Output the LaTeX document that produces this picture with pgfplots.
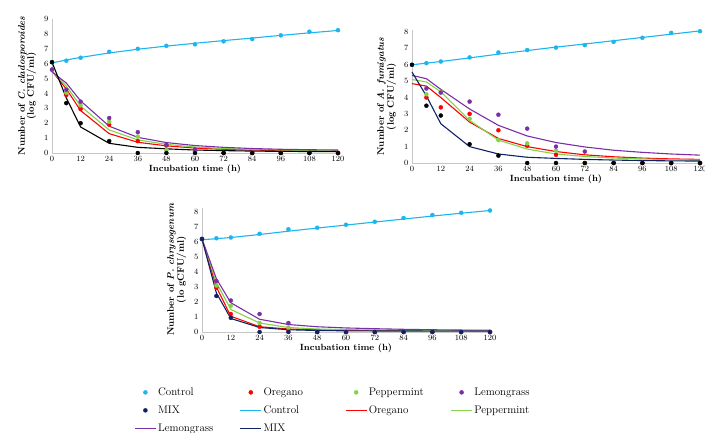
\documentclass[border=0pt]{standalone}
\usepackage{pgfplots}
\pgfplotsset{compat=1.18}
\definecolor{cctrl}{HTML}{1CB5EF}
\definecolor{core}{HTML}{FF0000}
\definecolor{cpep}{HTML}{86D14A}
\definecolor{clem}{HTML}{7A2FA6}
\definecolor{cmix}{HTML}{0F2266}
\pgfplotsset{
  myaxis/.style={scale only axis, axis x line=bottom, axis y line=left,
    axis line style={-, draw=black!22, line width=0.6pt},
    xmin=0, xmax=120, ymin=0, xtick={0,12,...,120}, ytick distance=1,
    major tick length=0pt, enlargelimits=false, clip=false,
    tick label style={font=\fontsize{8}{9}\selectfont},
    xlabel={Incubation time (h)},
    xlabel style={font=\bfseries\fontsize{9}{10}\selectfont, yshift=4pt},
    ylabel style={align=center, font=\bfseries\fontsize{9.5}{9}\selectfont, yshift=1pt},
  },
  mk/.style={only marks, mark=*, mark size=2pt},
  ln/.style={no markers, line width=1.1pt},
}
\begin{document}
\begin{tikzpicture}
\useasboundingbox (0,0) rectangle (705pt,432pt);
% ---------- Plot 1 ----------
\begin{axis}[myaxis, at={(52pt,279pt)}, anchor=south west, width=286pt, height=134pt, ymax=9,
  ylabel={Number of \textit{C. cladosporoides}\\(log CFU/ml)}]
\addplot[mk, cctrl] coordinates {(0,6.1)(6,6.2)(12,6.4)(24,6.8)(36,7.0)(48,7.2)(60,7.3)(72,7.5)(84,7.65)(96,7.9)(108,8.15)(120,8.25)};
\addplot[mk, core] coordinates {(0,5.6)(6,3.9)(12,2.95)(24,1.9)(36,0.8)(48,0.5)(60,0.1)(72,0)(84,0)(96,0)(108,0)(120,0)};
\addplot[mk, cpep] coordinates {(0,5.6)(6,4.05)(12,3.2)(24,2.1)(36,1.1)(48,0.2)(60,0.1)(72,0)(84,0)(96,0)(108,0)(120,0)};
\addplot[mk, clem] coordinates {(0,5.6)(6,4.25)(12,3.45)(24,2.35)(36,1.4)(48,0.55)(60,0.25)(72,0)(84,0)(96,0)(108,0)(120,0)};
\addplot[mk, black] coordinates {(0,6.1)(6,3.35)(12,2.0)(24,0.8)(36,0)(48,0)(60,0)(72,0)(84,0)(96,0)(108,0)(120,0)};
\addplot[ln, cctrl] coordinates {(0,6.05)(6,6.25)(12,6.42)(24,6.72)(36,6.97)(48,7.18)(60,7.37)(72,7.55)(84,7.72)(96,7.9)(108,8.07)(120,8.23)};
\addplot[ln, core] coordinates {(0,5.5)(6,4.3)(12,2.85)(24,1.3)(36,0.72)(48,0.48)(60,0.33)(72,0.25)(84,0.2)(96,0.16)(108,0.14)(120,0.12)};
\addplot[ln, cpep] coordinates {(0,5.5)(6,4.5)(12,3.15)(24,1.55)(36,0.88)(48,0.58)(60,0.4)(72,0.3)(84,0.24)(96,0.2)(108,0.17)(120,0.15)};
\addplot[ln, clem] coordinates {(0,5.45)(6,4.7)(12,3.5)(24,1.8)(36,1.05)(48,0.7)(60,0.5)(72,0.38)(84,0.3)(96,0.25)(108,0.22)(120,0.2)};
\addplot[ln, black] coordinates {(0,6.1)(6,3.7)(12,1.75)(24,0.65)(36,0.38)(48,0.28)(60,0.2)(72,0.16)(84,0.13)(96,0.11)(108,0.1)(120,0.09)};
\end{axis}
% ---------- Plot 2 ----------
\begin{axis}[myaxis, at={(412pt,269pt)}, anchor=south west, width=288pt, height=132.6pt, ymax=8.1, ytick={0,...,8},
  ylabel={Number of \textit{A. fumigatus}\\(log CFU/ml)}]
\addplot[mk, cctrl] coordinates {(0,6.0)(6,6.1)(12,6.2)(24,6.45)(36,6.75)(48,6.9)(60,7.05)(72,7.2)(84,7.4)(96,7.65)(108,7.95)(120,8.05)};
\addplot[mk, core] coordinates {(6,4.0)(12,3.4)(24,3.0)(36,2.0)(48,1.05)(60,0.5)(72,0)(84,0)(96,0)(108,0)(120,0)};
\addplot[mk, cpep] coordinates {(6,4.2)(12,4.35)(24,2.7)(36,1.4)(48,1.2)(60,0.75)(72,0)(84,0)(96,0)(108,0)(120,0)};
\addplot[mk, clem] coordinates {(6,4.55)(12,4.3)(24,3.75)(36,2.95)(48,2.1)(60,1.0)(72,0.7)(84,0)(96,0)(108,0)(120,0)};
\addplot[mk, black] coordinates {(0,6.0)(6,3.5)(12,2.9)(24,1.15)(36,0.45)(48,0)(60,0)(72,0)(84,0)(96,0)(108,0)(120,0)};
\addplot[ln, cctrl] coordinates {(0,6.0)(6,6.1)(12,6.2)(24,6.42)(36,6.65)(48,6.87)(60,7.08)(72,7.27)(84,7.47)(96,7.67)(108,7.87)(120,8.07)};
\addplot[ln, core] coordinates {(0,4.85)(6,4.7)(12,4.0)(24,2.5)(36,1.5)(48,1.0)(60,0.7)(72,0.5)(84,0.38)(96,0.3)(108,0.25)(120,0.22)};
\addplot[ln, cpep] coordinates {(0,5.1)(6,4.95)(12,4.35)(24,2.6)(36,1.4)(48,0.85)(60,0.55)(72,0.4)(84,0.3)(96,0.25)(108,0.2)(120,0.18)};
\addplot[ln, clem] coordinates {(0,5.35)(6,5.15)(12,4.5)(24,3.3)(36,2.3)(48,1.65)(60,1.25)(72,0.98)(84,0.78)(96,0.65)(108,0.55)(120,0.48)};
\addplot[ln, cmix] coordinates {(0,5.55)(6,4.1)(12,2.4)(24,1.0)(36,0.55)(48,0.35)(60,0.28)(72,0.22)(84,0.18)(96,0.15)(108,0.13)(120,0.12)};
\end{axis}
% ---------- Plot 3 ----------
\begin{axis}[myaxis, at={(202pt,100pt)}, anchor=south west, width=288pt, height=124.5pt, ymax=8.3, ytick={0,...,8},
  ylabel={Number of \textit{P. chrysogenum}\\(lo gCFU/ml)}]
\addplot[mk, cctrl] coordinates {(0,6.2)(6,6.25)(12,6.3)(24,6.55)(36,6.85)(48,6.95)(60,7.15)(72,7.35)(84,7.6)(96,7.8)(108,7.95)(120,8.1)};
\addplot[mk, core] coordinates {(0,6.2)(6,2.95)(12,1.2)(24,0.35)(36,0.15)(48,0)(60,0)(72,0)(84,0)(96,0)(108,0)(120,0)};
\addplot[mk, cpep] coordinates {(0,6.2)(6,3.1)(12,1.75)(24,0.6)(36,0.3)(48,0)(60,0)(72,0)(84,0)(96,0)(108,0)(120,0)};
\addplot[mk, clem] coordinates {(0,6.2)(6,3.4)(12,2.1)(24,1.2)(36,0.6)(48,0)(60,0)(72,0)(84,0)(96,0)(108,0)(120,0)};
\addplot[mk, cmix] coordinates {(0,6.2)(6,2.4)(12,0.95)(24,0)(36,0)(48,0)(60,0)(72,0)(84,0)(96,0)(108,0)(120,0)};
\addplot[ln, cctrl] coordinates {(0,6.15)(6,6.22)(12,6.3)(24,6.5)(36,6.72)(48,6.93)(60,7.13)(72,7.33)(84,7.53)(96,7.73)(108,7.92)(120,8.1)};
\addplot[ln, core] coordinates {(0,6.2)(6,3.0)(12,1.05)(24,0.35)(36,0.2)(48,0.15)(60,0.12)(72,0.1)(84,0.1)(96,0.09)(108,0.09)(120,0.08)};
\addplot[ln, cpep] coordinates {(0,6.2)(6,3.3)(12,1.5)(24,0.6)(36,0.3)(48,0.2)(60,0.16)(72,0.13)(84,0.12)(96,0.1)(108,0.1)(120,0.09)};
\addplot[ln, clem] coordinates {(0,6.2)(6,3.55)(12,1.95)(24,0.85)(36,0.5)(48,0.35)(60,0.27)(72,0.22)(84,0.18)(96,0.15)(108,0.13)(120,0.12)};
\addplot[ln, cmix] coordinates {(0,6.2)(6,2.6)(12,0.9)(24,0.3)(36,0.15)(48,0.1)(60,0.08)(72,0.07)(84,0.07)(96,0.06)(108,0.06)(120,0.06)};
\end{axis}
% ---------- Legend (hidden axis) ----------
\begin{axis}[at={(202pt,100pt)}, anchor=south west, scale only axis, width=288pt, height=124.5pt,
  hide axis, xmin=0, xmax=1, ymin=0, ymax=1,
  legend columns=4, legend cell align=left,
  legend image code/.code={\draw[mark repeat=2,mark phase=2,#1] plot coordinates {(0pt,0pt) (10.5pt,0pt) (21pt,0pt)};},
  legend style={draw=none, fill=none, at={(-0.2465,-0.413)}, anchor=north west,
    font=\fontsize{11}{13}\selectfont, row sep=4.5pt,
    nodes={inner sep=1.5pt, text height=8pt, text depth=2.5pt}}]
\addlegendimage{mk, color=cctrl}
\addlegendentry{\makebox[80pt][l]{Control}}
\addlegendimage{mk, color=core}
\addlegendentry{\makebox[80pt][l]{Oregano}}
\addlegendimage{mk, color=cpep}
\addlegendentry{\makebox[80pt][l]{Peppermint}}
\addlegendimage{mk, color=clem}
\addlegendentry{\makebox[80pt][l]{Lemongrass}}
\addlegendimage{mk, color=cmix}
\addlegendentry{\makebox[80pt][l]{MIX}}
\addlegendimage{no markers, line width=1.4pt, color=cctrl}
\addlegendentry{\makebox[80pt][l]{Control}}
\addlegendimage{no markers, line width=1.4pt, color=core}
\addlegendentry{\makebox[80pt][l]{Oregano}}
\addlegendimage{no markers, line width=1.4pt, color=cpep}
\addlegendentry{\makebox[80pt][l]{Peppermint}}
\addlegendimage{no markers, line width=1.4pt, color=clem}
\addlegendentry{\makebox[80pt][l]{Lemongrass}}
\addlegendimage{no markers, line width=1.4pt, color=cmix}
\addlegendentry{\makebox[80pt][l]{MIX}}
\end{axis}
\end{tikzpicture}
\end{document}
